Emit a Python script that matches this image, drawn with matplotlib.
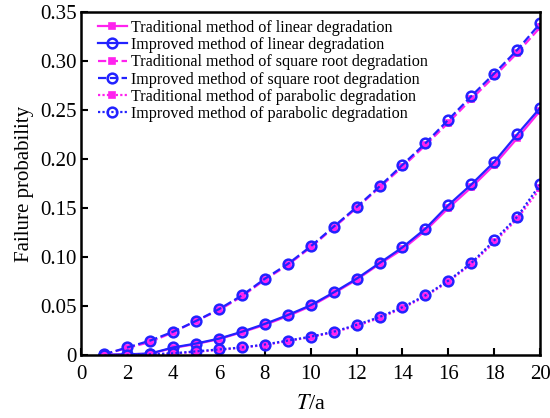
import matplotlib.pyplot as plt
import numpy as np

plt.rcParams['font.family'] = ['Liberation Serif', 'DejaVu Serif']
plt.rcParams['mathtext.fontset'] = 'stix'

t = np.arange(1, 21)

trad_lin = [0.0004, 0.001, 0.0015, 0.0075, 0.0115, 0.0165, 0.0235, 0.031, 0.040, 0.050,
            0.063, 0.077, 0.093, 0.108, 0.127, 0.150, 0.171, 0.194, 0.221, 0.249]
impr_lin = [0.0005, 0.001, 0.0018, 0.008, 0.012, 0.017, 0.024, 0.032, 0.041, 0.051,
            0.064, 0.078, 0.094, 0.110, 0.129, 0.153, 0.174, 0.197, 0.225, 0.252]
trad_sqrt = [0.001, 0.0075, 0.0135, 0.0235, 0.035, 0.046, 0.060, 0.077, 0.092, 0.110,
             0.130, 0.150, 0.171, 0.192, 0.214, 0.237, 0.261, 0.284, 0.308, 0.334]
impr_sqrt = [0.001, 0.008, 0.015, 0.024, 0.035, 0.047, 0.061, 0.078, 0.093, 0.111,
             0.131, 0.151, 0.172, 0.194, 0.216, 0.240, 0.264, 0.287, 0.311, 0.338]
trad_para = [0.0, 0.0003, 0.0008, 0.0018, 0.0035, 0.0055, 0.0078, 0.0105, 0.0145, 0.0185,
             0.0235, 0.030, 0.038, 0.048, 0.060, 0.075, 0.093, 0.115, 0.139, 0.170]
impr_para = [0.0, 0.0004, 0.001, 0.002, 0.004, 0.006, 0.008, 0.011, 0.015, 0.019,
             0.024, 0.031, 0.039, 0.049, 0.061, 0.076, 0.094, 0.117, 0.141, 0.174]

mag = '#ff22ee'
blu = '#2222ff'
dots = (0, (1, 1))

fig, ax = plt.subplots(figsize=(5.5, 4.18), dpi=100)
fig.subplots_adjust(left=0.148, right=0.982, top=0.972, bottom=0.15)

sq = dict(marker='s', ms=5, mfc=mag, mec=mag, mew=1.2)
ci = dict(marker='o', ms=7, mfc='none', mec=blu, mew=1.8)

ax.plot(t, trad_lin, '-', color=mag, lw=1.6, label='Traditional method of linear degradation', **sq)
ax.plot(t, impr_lin, '-', color=blu, lw=1.6, label='Improved method of linear degradation', **ci)
ax.plot(t, trad_sqrt, '--', color=mag, lw=1.6, label='Traditional method of square root degradation', **sq)
ax.plot(t, impr_sqrt, '--', color=blu, lw=1.6, label='Improved method of square root degradation', **ci)
ax.plot(t, trad_para, linestyle=dots, color=mag, lw=1.6, label='Traditional method of parabolic degradation', **sq)
ax.plot(t, impr_para, linestyle=dots, color=blu, lw=1.6, label='Improved method of parabolic degradation', **ci)

ax.set_xlim(0, 20)
ax.set_ylim(0, 0.35)
ax.set_xticks(np.arange(0, 21, 2))
yt = np.arange(0, 0.351, 0.05)
ax.set_yticks(yt)
ax.set_yticklabels(['0'] + ['%.2f' % v for v in yt[1:]])
ax.tick_params(direction='in', labelsize=15, width=1.5, length=5)
ax.tick_params(axis='x', pad=7)
for s in ax.spines.values():
    s.set_linewidth(1.8)

ax.set_xlabel('$T$/a', fontsize=16, labelpad=8)
ax.set_ylabel('Failure probability', fontsize=15)

ax.legend(loc='upper left', frameon=False, fontsize=11.6, handlelength=1.8,
          labelspacing=0.08, handletextpad=0.25, borderaxespad=0.2,
          bbox_to_anchor=(0.015, 1.005))

plt.savefig('out.png')
